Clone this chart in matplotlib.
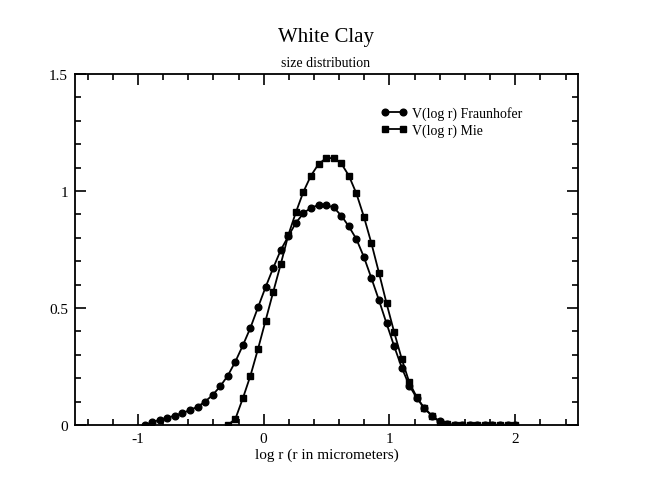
import matplotlib
matplotlib.use("Agg")
import matplotlib.pyplot as plt
from matplotlib.ticker import MultipleLocator

plt.rcParams['font.family'] = ['Liberation Serif', 'DejaVu Serif']

# log r sample positions (shared by both curves)
logr = [-0.947, -0.887, -0.827, -0.767, -0.706, -0.646, -0.586, -0.526, -0.466, -0.406,
        -0.346, -0.285, -0.225, -0.165, -0.105, -0.045, 0.015, 0.075, 0.136, 0.196,
        0.256, 0.316, 0.376, 0.436, 0.496, 0.557, 0.617, 0.677, 0.737, 0.797,
        0.857, 0.917, 0.977, 1.038, 1.098, 1.158, 1.218, 1.278, 1.338, 1.398,
        1.458, 1.519, 1.579, 1.639, 1.699, 1.759, 1.819, 1.879, 1.940, 2.000]

fraunhofer = [0.0, 0.011, 0.023, 0.031, 0.040, 0.051, 0.064, 0.078, 0.100, 0.128,
              0.165, 0.211, 0.271, 0.341, 0.416, 0.503, 0.589, 0.670, 0.748, 0.807,
              0.864, 0.905, 0.929, 0.940, 0.940, 0.930, 0.895, 0.849, 0.795, 0.718,
              0.627, 0.533, 0.434, 0.336, 0.245, 0.168, 0.115, 0.071, 0.040, 0.016,
              0.004, 0.0, 0.0, 0.0, 0.0, 0.0, 0.0, 0.0, 0.0, 0.0]

# Mie curve starts at the 12th sample
mie_start = 11
mie = [0.0, 0.026, 0.115, 0.211, 0.325, 0.446, 0.567, 0.688, 0.812,
       0.909, 0.997, 1.066, 1.115, 1.141, 1.141, 1.118, 1.066, 0.990, 0.890,
       0.776, 0.650, 0.520, 0.396, 0.282, 0.182, 0.118, 0.071, 0.040, 0.014,
       0.003, 0.0, 0.0, 0.0, 0.0, 0.0, 0.0, 0.0, 0.0, 0.0]

fig = plt.figure(figsize=(6.5, 5.02), dpi=100)
ax = fig.add_axes([0.1154, 0.1514, 0.774, 0.699])

ax.plot(logr, fraunhofer, color='black', lw=1.3, marker='o', ms=4.8,
        label='V(log r) Fraunhofer')
ax.plot(logr[mie_start:], mie, color='black', lw=1.3, marker='s', ms=4.2,
        label='V(log r) Mie')

ax.set_xlim(-1.5, 2.5)
ax.set_ylim(0, 1.5)
ax.xaxis.set_minor_locator(MultipleLocator(0.2))
ax.yaxis.set_minor_locator(MultipleLocator(0.1))
ax.set_xticks([-1, 0, 1, 2])
ax.set_xticklabels(['-1', '0', '1', '2'])
ax.set_yticks([0, 0.5, 1, 1.5])
ax.set_yticklabels(['0', '0.5', '1', '1.5'])
ax.tick_params(which='both', direction='in', top=True, right=True,
               labelsize=11, width=1.2)
ax.tick_params(which='major', length=8, pad=5)
ax.tick_params(which='minor', length=4)
for s in ax.spines.values():
    s.set_linewidth(1.3)

ax.set_xlabel('log r (r in micrometers)', fontsize=11, labelpad=2)
fig.text(0.5015, 0.926, 'White Clay', ha='center', va='center', fontsize=15)
fig.text(0.5015, 0.874, 'size distribution', ha='center', va='center', fontsize=10)

ax.legend(loc='upper left', bbox_to_anchor=(0.596, 0.925), frameon=False,
          fontsize=10, handlelength=1.9, handletextpad=0.35,
          labelspacing=0.25, borderaxespad=0, numpoints=2)

fig.savefig('out.png', dpi=100)
